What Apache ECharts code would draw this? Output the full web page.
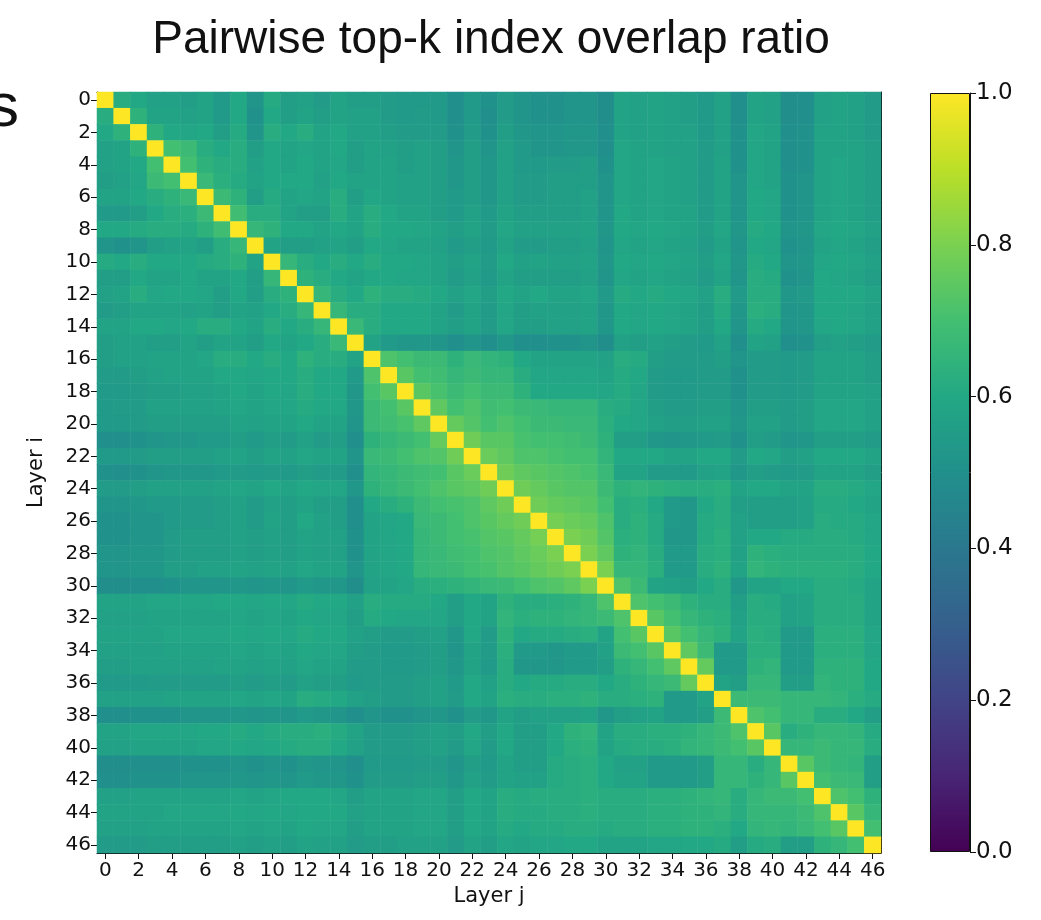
<!DOCTYPE html>
<html>
<head>
<meta charset="utf-8">
<script src="https://cdn.jsdelivr.net/npm/echarts@6/dist/echarts.min.js"></script>
<style>
  html, body { margin: 0; padding: 0; background: #fff; }
  #chart { width: 1041px; height: 920px; }
</style>
</head>
<body>
<div id="chart"></div>
<script>
// Layer indices (rows = layer i, columns = layer j)
const layers = ['0','1','2','3','4','5','6','7','8','9','10','11','12','13','14','15','16','17','18','19','20','21','22','23','24','25','26','27','28','29','30','31','32','33','34','35','36','37','38','39','40','41','42','43','44','45','46'];

// Overlap ratio of a layer with itself
const selfOverlap = 1.0;

// Lower triangle of the overlap matrix, in percent: row i holds columns 0..i-1.
// Rows 1-15
const rowsEarly = [
  [62],
  [60,64],
  [57,58,64],
  [57,58,60,70],
  [56,57,59,68,70],
  [58,58,60,62,64,67],
  [54,54,56,60,62,63,68],
  [60,60,61,62,62,61,64,69],
  [52,51,52,56,57,58,56,62,66],
  [61,60,62,60,60,60,61,62,64,58],
  [56,56,60,58,58,60,58,58,60,56,66],
  [57,58,62,59,60,60,59,56,60,56,62,64],
  [55,56,58,58,58,57,58,56,58,57,60,62,66],
  [58,58,60,60,59,60,62,62,60,58,62,60,62,66],
  [56,57,57,56,56,58,56,58,58,56,60,58,60,62,67]
];
// Rows 16-30
const rowsMiddle = [
  [56,57,57,58,58,58,59,62,62,60,62,60,64,62,62,58],
  [55,55,56,57,58,58,58,60,60,59,60,60,62,60,60,54,72],
  [54,54,55,56,56,57,57,58,60,58,60,59,62,60,60,53,70,74],
  [54,55,55,57,57,57,57,58,59,58,59,59,61,60,60,53,68,70,74],
  [54,54,55,56,56,56,56,56,58,57,58,58,60,58,58,52,68,69,71,75],
  [50,50,51,52,53,53,54,54,56,54,56,55,57,55,56,50,64,66,68,70,76],
  [54,54,55,56,56,56,56,57,58,56,58,57,59,58,58,52,67,68,70,72,73,78],
  [51,50,51,52,53,53,53,54,55,54,55,54,56,55,55,50,65,66,68,69,70,74,77],
  [55,55,56,57,57,57,57,58,59,58,60,58,60,59,59,53,64,66,68,70,72,74,75,78],
  [52,52,53,54,54,55,55,56,57,55,57,56,58,56,56,50,60,62,64,68,70,71,72,75,78],
  [51,51,52,52,54,55,55,56,57,55,58,56,60,57,56,50,58,59,60,67,68,70,72,74,76,78],
  [51,51,52,52,55,56,56,56,57,56,57,56,58,57,57,51,58,59,60,66,68,70,71,73,74,76,79],
  [52,52,53,53,55,56,56,56,57,56,57,56,58,57,57,51,58,59,60,66,67,69,70,72,73,75,77,80],
  [52,52,53,53,56,56,57,57,58,57,58,57,59,58,58,52,58,59,60,66,67,68,70,71,73,74,76,78,80],
  [49,49,50,50,51,52,52,52,53,52,53,52,54,53,53,49,57,58,59,62,63,64,65,67,68,70,72,73,75,80]
];
// Rows 31-46
const rowsLate = [
  [58,58,58,59,59,59,59,60,60,59,60,59,61,60,60,57, 62,61,61,61,60,56,60,58,64,62,62,63,64,66,72],
  [57,57,57,58,58,58,58,58,59,58,59,58,60,59,59,56, 61,60,59,59,59,56,60,58,65,63,64,64,65,66,68, 72],
  [58,58,58,58,59,59,59,59,60,59,60,59,61,60,60,57, 56,55,55,56,57,53,60,55,64,60,61,61,62,63,58, 70,74],
  [57,57,57,57,58,58,58,58,59,58,59,58,60,59,59,56, 55,54,54,55,56,52,58,55,63,54,54,53,54,54,57, 68,70,74],
  [56,56,57,57,57,57,57,58,58,57,58,57,59,58,58,55, 55,54,54,55,56,53,58,54,62,53,53,53,54,54,56, 64,66,70,75],
  [54,54,54,55,55,55,55,55,56,55,56,55,57,56,56,54, 55,55,55,56,57,54,60,57,62,60,61,61,62,62,60, 62,64,66,68,76],
  [57,57,57,57,58,58,58,58,59,58,59,58,62,61,60,57, 56,55,55,56,57,55,60,58,63,62,62,63,63,64,62, 62,63,64,54,54,58],
  [50,50,51,51,51,52,52,52,53,52,53,52,54,53,52,50, 52,51,51,52,53,51,55,53,58,56,57,57,57,58,53, 56,57,58,54,54,56,68],
  [58,58,59,59,59,59,60,60,61,60,61,62,62,63,61,58, 55,55,55,56,57,56,60,56,60,56,56,60,64,65,58, 62,62,63,63,64,66,68,72],
  [57,57,58,58,58,58,59,59,60,59,60,61,62,62,60,57, 55,55,55,56,57,55,59,55,60,56,56,60,63,64,58, 61,62,62,63,65,66,68,70,74],
  [49,49,50,50,50,51,51,51,52,51,52,51,53,52,52,50, 54,54,54,55,55,52,56,54,58,56,56,61,62,63,60, 57,57,54,54,54,56,66,66,62,66],
  [50,50,51,51,51,52,52,52,53,52,53,52,54,53,53,51, 55,55,55,56,56,53,57,55,58,57,57,61,62,63,60, 58,58,54,54,54,56,66,66,64,66,74],
  [57,57,58,58,58,58,58,58,59,58,59,60,60,60,59,56, 58,58,58,59,59,56,60,58,62,61,62,62,62,63,62, 62,62,63,63,64,65,66,62,66,68,68,70],
  [58,58,58,58,59,59,59,59,60,59,60,59,60,60,60,57, 58,58,58,59,59,56,60,58,62,61,61,62,62,63,62, 62,62,63,63,64,64,65,62,66,66,66,68,72],
  [57,57,57,58,58,58,58,58,59,58,59,58,60,59,59,56, 58,58,58,59,59,56,60,58,61,60,61,61,62,62,61, 62,62,63,63,64,64,63,60,65,66,65,67,70,74],
  [55,55,55,56,56,56,56,56,57,56,57,56,58,57,57,55, 56,56,57,57,57,55,58,56,59,58,59,59,60,60,58, 58,58,59,59,60,60,61,56,61,62,56,56,64,66,70]
];

// Colour bar ticks
const colorbarTicks = ['0.0','0.2','0.4','0.6','0.8','1.0'];

// Matplotlib viridis, 11 evenly spaced stops
const viridis = ['#440154','#482576','#414487','#35608D','#2A788E','#21908C','#22A884','#43BF71','#7AD151','#BBDF27','#FDE725'];

// ---- build the full symmetric matrix from the lower triangle ----
const lower = [[]].concat(rowsEarly, rowsMiddle, rowsLate);
function overlap(i, j) {
  if (i === j) return selfOverlap;
  return (i > j ? lower[i][j] : lower[j][i]) / 100;
}
const cells = [];
for (let i = 0; i < layers.length; i++) {
  for (let j = 0; j < layers.length; j++) {
    cells.push([j, i, overlap(i, j)]);
  }
}

const tickFont = { fontFamily: 'DejaVu Sans', fontSize: 20, color: '#111' };
const plot = { left: 97, top: 92, width: 784, height: 761 };

const chart = echarts.init(document.getElementById('chart'), null, { renderer: 'canvas' });
chart.setOption({
  animation: false,
  backgroundColor: '#ffffff',
  title: {
    text: 'Pairwise top-k index overlap ratio',
    left: 486,
    textAlign: 'center',
    top: 12,
    textStyle: { fontFamily: 'Liberation Sans', fontSize: 46, fontWeight: 'normal', color: '#111' }
  },
  graphic: [{
    type: 'text',
    left: -12,
    top: 78,
    style: { text: 's', font: '62px "Liberation Sans"', fill: '#111' }
  }],
  grid: [
    plot,
    { left: 930, top: 93, width: 40, height: 759 }
  ],
  xAxis: [
    {
      gridIndex: 0, type: 'category', data: layers, position: 'bottom',
      name: 'Layer j', nameLocation: 'middle', nameGap: 31,
      nameTextStyle: { fontFamily: 'DejaVu Sans', fontSize: 21, color: '#111' },
      axisLine: { show: true, lineStyle: { color: '#111', width: 1 } },
      axisTick: { show: true, alignWithLabel: true, interval: 1, length: 6, lineStyle: { color: '#111' } },
      axisLabel: Object.assign({ interval: 1, margin: 8 }, tickFont),
      splitLine: { show: false }
    },
    {
      gridIndex: 0, type: 'category', data: layers, position: 'top',
      axisLine: { show: true, lineStyle: { color: '#111', width: 1 } },
      axisTick: { show: false }, axisLabel: { show: false }
    },
    {
      gridIndex: 1, type: 'category', data: [''], show: false
    }
  ],
  yAxis: [
    {
      gridIndex: 0, type: 'category', data: layers, inverse: true, position: 'left',
      name: 'Layer i', nameLocation: 'middle', nameGap: 50, nameRotate: 90,
      nameTextStyle: { fontFamily: 'DejaVu Sans', fontSize: 21, color: '#111' },
      axisLine: { show: true, lineStyle: { color: '#111', width: 1 } },
      axisTick: { show: true, alignWithLabel: true, interval: 1, length: 6, lineStyle: { color: '#111' } },
      axisLabel: Object.assign({ interval: 1, margin: 6 }, tickFont),
      splitLine: { show: false }
    },
    {
      gridIndex: 0, type: 'category', data: layers, inverse: true, position: 'right',
      axisLine: { show: true, lineStyle: { color: '#111', width: 1 } },
      axisTick: { show: false }, axisLabel: { show: false }
    },
    {
      gridIndex: 1, type: 'value', min: 0, max: 1, interval: 0.2, position: 'right',
      axisLine: { show: true, lineStyle: { color: '#111', width: 1 } },
      axisTick: { show: true, length: 6, lineStyle: { color: '#111' } },
      axisLabel: {
        margin: 6, fontFamily: 'DejaVu Sans', fontSize: 23, color: '#111',
        formatter: v => colorbarTicks[Math.round(v * 5)]
      },
      splitLine: { show: false }
    }
  ],
  visualMap: {
    show: false, type: 'continuous', min: 0, max: 1, dimension: 2, seriesIndex: 0,
    inRange: { color: viridis }
  },
  series: [
    {
      type: 'heatmap', xAxisIndex: 0, yAxisIndex: 0, data: cells,
      itemStyle: { borderWidth: 0 },
      emphasis: { disabled: true }
    },
    {
      type: 'bar', xAxisIndex: 2, yAxisIndex: 2, data: [selfOverlap],
      barWidth: '100%', silent: true,
      itemStyle: {
        borderColor: '#111', borderWidth: 1,
        color: new echarts.graphic.LinearGradient(0, 1, 0, 0,
          viridis.map((c, k) => ({ offset: k / (viridis.length - 1), color: c })))
      }
    }
  ]
});
</script>
</body>
</html>
